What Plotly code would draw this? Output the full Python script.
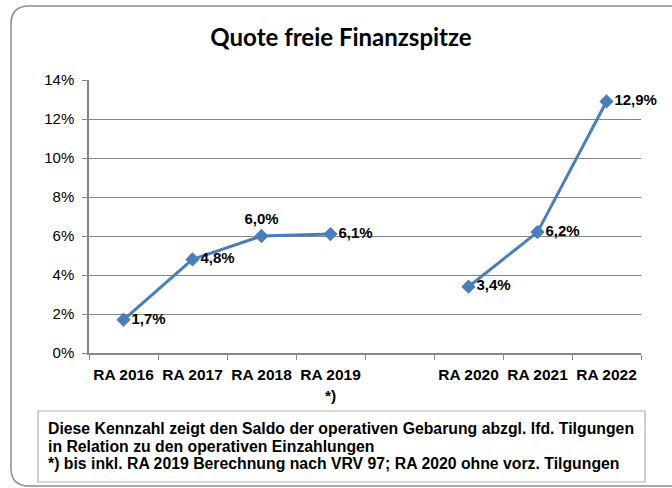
import plotly.graph_objects as go

categories = ["RA 2016", "RA 2017", "RA 2018", "RA 2019<br>*)", " ", "RA 2020", "RA 2021", "RA 2022"]
values = [0.017, 0.048, 0.060, 0.061, None, 0.034, 0.062, 0.129]
label_positions = ["middle right", "middle right", "top center", "middle right", "middle right",
                   "middle right", "middle right", "middle right"]
y_ticks = [0, 0.02, 0.04, 0.06, 0.08, 0.10, 0.12, 0.14]
y_tick_labels = ["0%", "2%", "4%", "6%", "8%", "10%", "12%", "14%"]
title_text = "Quote freie Finanzspitze"
footnote_lines = [
    "Diese Kennzahl zeigt den Saldo der operativen Gebarung abzgl. lfd. Tilgungen",
    "in Relation zu den operativen Einzahlungen",
    "*) bis inkl. RA 2019 Berechnung nach VRV 97; RA 2020 ohne vorz. Tilgungen",
]

W, H = 672, 488
ML, MR, MT, MB = 89, 31, 80, 135
PW, PH = W - ML - MR, H - MT - MB
ARIAL = "Liberation Sans, Arial"


def px(x):
    return (x - ML) / PW


def py(y):
    return (H - MB - y) / PH


texts = ["" if v is None else f"{v*100:.1f}%".replace(".", ",") for v in values]

fig = go.Figure()
fig.add_trace(go.Scatter(
    x=categories, y=values, mode="lines+markers+text",
    text=texts, textposition=label_positions,
    textfont=dict(family=ARIAL, size=15, color="#000000", weight="bold"),
    line=dict(color="#4A7EBB", width=3),
    marker=dict(symbol="diamond", size=11, color="#4A7EBB"),
    connectgaps=False, cliponaxis=False, showlegend=False, hoverinfo="skip",
))

# outer rounded border (right side cut off)
x0, y0, x1, y1, r = px(11), py(6), px(700), py(486), 18
rx, ry = r / PW, r / PH
path = (f"M {x1},{y0} L {x0+rx},{y0} Q {x0},{y0} {x0},{y0-ry} "
        f"L {x0},{y1+ry} Q {x0},{y1} {x0+rx},{y1} L {x1},{y1}")
fig.add_shape(type="path", xref="paper", yref="paper", path=path,
              line=dict(color="#8C8C8C", width=1.5))

# footnote box
fig.add_shape(type="rect", xref="paper", yref="paper",
              x0=px(38), x1=px(645), y0=py(482), y1=py(411),
              line=dict(color="#B0B0B0", width=1.2), fillcolor="white")
for i, line in enumerate(footnote_lines):
    fig.add_annotation(xref="paper", yref="paper", x=px(46), y=py(428 + 18 * i),
                       text=line, showarrow=False, xanchor="left", yanchor="middle",
                       font=dict(family=ARIAL, size=15.8, color="#000000", weight="bold"))

fig.update_layout(
    width=W, height=H,
    margin=dict(l=ML, r=MR, t=MT, b=MB),
    paper_bgcolor="white", plot_bgcolor="white",
    title=dict(text=title_text, x=341 / W, xanchor="center", y=1 - 38 / H, yanchor="middle",
               font=dict(family="Lato, Carlito, Calibri", size=24, color="#000000", weight="bold")),
    xaxis=dict(type="category", range=[-0.5, 7.5], tickson="boundaries", ticks="outside",
               ticklen=5, tickcolor="#868686", showline=True, linecolor="#868686", linewidth=1.5,
               showgrid=False, zeroline=False, tickangle=0, ticklabelstandoff=7,
               tickfont=dict(family=ARIAL, size=15.5, color="#000000", weight="bold")),
    yaxis=dict(range=[0, 0.14], tickvals=y_ticks, ticktext=y_tick_labels, ticks="outside",
               ticklen=5, tickcolor="#868686", showline=True, linecolor="#868686", linewidth=1.5,
               showgrid=True, gridcolor="#868686", gridwidth=1.2, zeroline=False,
               ticklabelstandoff=5,
               tickfont=dict(family=ARIAL, size=15, color="#000000")),
)

fig.write_html("out.html", config={"displayModeBar": False},
               post_script="document.body.style.margin='0';")
